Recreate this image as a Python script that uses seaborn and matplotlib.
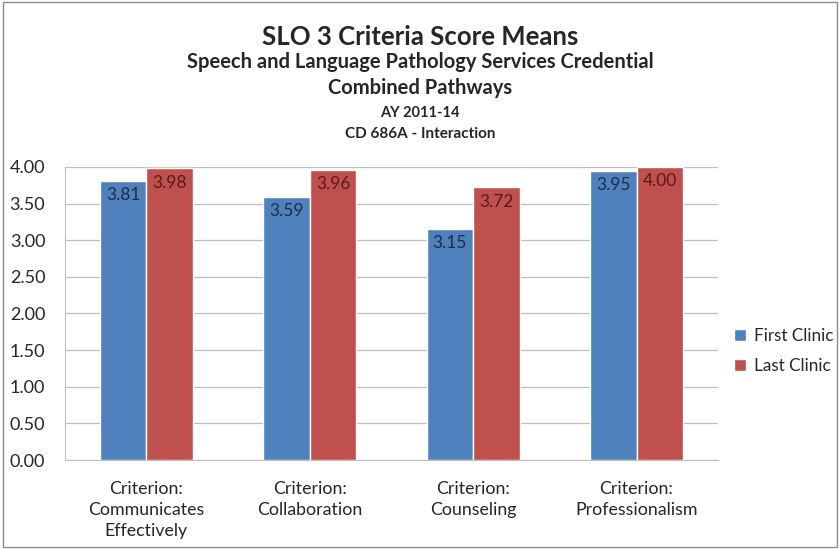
import matplotlib
matplotlib.use("Agg")
import matplotlib.pyplot as plt
import seaborn as sns
import pandas as pd
from matplotlib.patches import Rectangle

# chart data
criteria = ["Criterion:\nCommunicates\nEffectively", "Criterion:\nCollaboration",
            "Criterion:\nCounseling", "Criterion:\nProfessionalism"]
first_clinic = [3.81, 3.59, 3.15, 3.95]
last_clinic = [3.98, 3.96, 3.72, 4.00]
series = ["First Clinic", "Last Clinic"]
yticks = [0.0, 0.5, 1.0, 1.5, 2.0, 2.5, 3.0, 3.5, 4.0]

df = pd.DataFrame({
    "criterion": criteria * 2,
    "score": first_clinic + last_clinic,
    "series": [series[0]] * 4 + [series[1]] * 4,
})

sns.set_style("white")
plt.rcParams["font.family"] = ["Lato", "DejaVu Sans"]

colors = ["#4F81BD", "#C0504D"]
label_colors = ["#1F2D4A", "#5A1A18"]

fig = plt.figure(figsize=(8.4, 5.49), dpi=100)
ax = fig.add_axes([0.077, 0.162, 0.778, 0.534])

sns.barplot(data=df, x="criterion", y="score", hue="series", palette=colors,
            width=0.57, saturation=1, ax=ax, legend=True)

for cont, lc in zip(ax.containers, label_colors):
    ax.bar_label(cont, fmt="%.2f", padding=-16, color=lc, fontsize=12.5)

ax.set_ylim(0, 4.0)
ax.set_yticks(yticks)
ax.set_yticklabels([f"{v:.2f}" for v in yticks], fontsize=13)
ax.set_xticks(range(len(criteria)))
ax.set_xticklabels(criteria, fontsize=12.8, linespacing=1.38)
ax.tick_params(axis="x", length=0, pad=15)
ax.tick_params(axis="y", length=0, pad=14)
ax.set_xlabel("")
ax.set_ylabel("")
ax.yaxis.grid(True, color="#BFBFBF", linewidth=0.9)
ax.set_axisbelow(True)
for s in ["top", "right"]:
    ax.spines[s].set_visible(False)
ax.spines["left"].set_color("#BFBFBF")
ax.spines["bottom"].set_color("#BFBFBF")

leg = ax.legend(loc="center left", bbox_to_anchor=(1.0, 0.372), frameon=False,
                fontsize=12.3, handlelength=0.7, handleheight=0.7,
                handletextpad=0.5, labelspacing=0.8)

fig.text(0.5, 0.932, "SLO 3 Criteria Score Means", ha="center", va="center",
         fontsize=18.5, fontweight="bold")
fig.text(0.5, 0.887, "Speech and Language Pathology Services Credential",
         ha="center", va="center", fontsize=14.5, fontweight="bold")
fig.text(0.5, 0.84, "Combined Pathways", ha="center", va="center",
         fontsize=14.5, fontweight="bold")
fig.text(0.5, 0.794, "AY 2011-14", ha="center", va="center",
         fontsize=10.5, fontweight="bold")
fig.text(0.5, 0.756, "CD 686A - Interaction", ha="center", va="center",
         fontsize=11, fontweight="bold")

fig.patches.append(Rectangle((0.004, 0.004), 0.992, 0.992, transform=fig.transFigure,
                             fill=False, edgecolor="#8C8C8C", linewidth=1))

fig.savefig("out.png", dpi=100)
